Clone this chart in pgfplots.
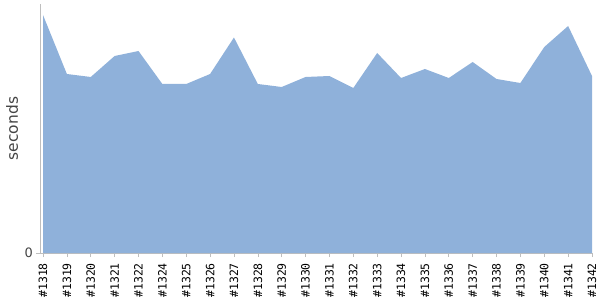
\documentclass[border=0pt]{standalone}
\usepackage{fontspec}
\setmainfont{DejaVu Sans}
\newfontfamily\monof{DejaVu Sans Mono}
\usepackage{pgfplots}
\pgfplotsset{compat=1.18}
\definecolor{areafill}{RGB}{143,177,218}
\definecolor{axisgray}{RGB}{190,190,190}
\definecolor{txtgray}{RGB}{68,68,68}
\begin{document}
\begin{tikzpicture}
\path[use as bounding box] (-40bp,-47bp) rectangle (560bp,253bp);
\begin{axis}[at={(0,0)}, anchor=south west, scale only axis,
  width=552bp, height=249bp,
  xmin=-0.126, xmax=23, ymin=0, ymax=249,
  axis lines*=left,
  axis line style={-, draw=axisgray, line width=0.8bp},
  xtick={0,...,23},
  xticklabels={\#1318,\#1319,\#1320,\#1321,\#1322,\#1324,\#1325,\#1326,\#1327,\#1328,\#1329,\#1330,\#1331,\#1332,\#1333,\#1334,\#1335,\#1336,\#1337,\#1338,\#1339,\#1340,\#1341,\#1342},
  xticklabel style={rotate=90, anchor=east, font=\monof\fontsize{11.5}{11.5}\selectfont, text=black, inner sep=0pt},
  xticklabel shift=6bp,
  ytick={0},
  /pgf/number format/assume math mode=true,
  yticklabel style={font=\fontsize{13}{13}\selectfont, text=txtgray, inner sep=0pt},
  yticklabel shift=3bp,
  tick style={draw=axisgray, line width=0.6bp},
  tick align=outside, major tick length=4bp,
  ylabel={seconds},
  ylabel style={at={([xshift=-28bp]axis description cs:0,0.5)}, anchor=center,
    font=\fontsize{15.5}{15.5}\selectfont, text=txtgray},
  clip=false]
\addplot[fill=areafill, draw=none] coordinates {
(0,238) (1,179) (2,176) (3,197) (4,202) (5,169) (6,169) (7,179)
(8,215.5) (9,169) (10,166) (11,176) (12,177) (13,165) (14,200) (15,175)
(16,184) (17,175) (18,191) (19,174) (20,170) (21,206) (22,227) (23,177)
} \closedcycle;
\end{axis}
\end{tikzpicture}
\end{document}
